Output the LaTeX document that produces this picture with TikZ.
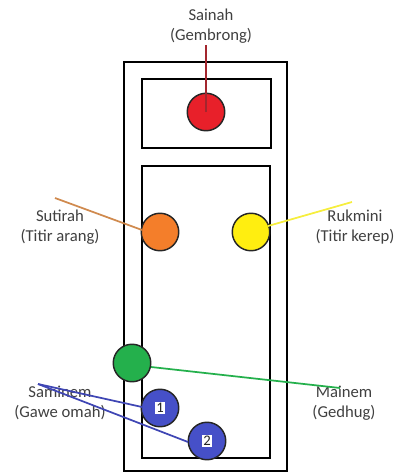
\documentclass[tikz,border=0pt]{standalone}
\usepackage{fontspec}
\setmainfont{Carlito}
\begin{document}
\begin{tikzpicture}[x=0.75pt,y=-0.75pt,
  frame/.style={draw=black,line width=1.5pt},
  lamp/.style={circle,draw=black!85,line width=1.1pt,minimum size=37.5*0.75pt,inner sep=0pt},
  lbl/.style={text=black!75,font=\fontsize{12.5}{15}\selectfont,align=center},
  num/.style={fill=white,inner sep=1pt,font=\fontsize{11}{12}\selectfont,text=black!85},
  lead/.style={line width=1.3pt}]
\definecolor{cred}{HTML}{E8202A}
\definecolor{credline}{HTML}{A3262E}
\definecolor{corange}{HTML}{F47E2A}
\definecolor{corangeline}{HTML}{D08A4E}
\definecolor{cyellow}{HTML}{FFEE10}
\definecolor{cyellowline}{HTML}{F6EE3E}
\definecolor{cgreen}{HTML}{24B04C}
\definecolor{cblue}{HTML}{4650C8}
\definecolor{cblueline}{HTML}{3F46B4}
\useasboundingbox (0,0) rectangle (401,472);
% housing and its two compartments
\draw[frame] (124,62) rectangle (287,471);
\draw[frame] (142,79) rectangle (271,148);
\draw[frame] (142,166) rectangle (270,458);
% lamps
\node[lamp,fill=cred] (sainah) at (206,112) {};
\node[lamp,fill=corange] (sutirah) at (160,232) {};
\node[lamp,fill=cyellow] (rukmini) at (251,232) {};
\node[lamp,fill=cgreen] (mainem) at (132,363) {};
\node[lamp,fill=cblue] (s1) at (160,408) {};
\node[lamp,fill=cblue] (s2) at (207,441) {};
\node[num] at (s1) {1};
\node[num] at (s2) {2};
% labels
\node[lbl] (tsainah) at (211,26) {Sainah\\(Gembrong)};
\node[lbl] (tsutirah) at (60,227) {Sutirah\\(Titir arang)};
\node[lbl] (trukmini) at (355,227) {Rukmini\\(Titir kerep)};
\node[lbl] (tmainem) at (344,403) {Mainem\\(Gedhug)};
\node[lbl] (tsaminem) at (60,403) {Saminem\\(Gawe omah)};
% leader lines
\coordinate (esainah) at (206,45);
\coordinate (esutirah) at (55,198);
\coordinate (erukmini) at (352,202);
\coordinate (emainem) at (340,388);
\coordinate (esaminem) at (38,384);
\draw[lead,credline] (sainah.center) -- (esainah);
\draw[lead,corangeline] (sutirah.center) ++(-18,-2) -- (esutirah);
\draw[lead,cyellowline] (rukmini.center) ++(17,-6) -- (erukmini);
\draw[lead,cgreen] (mainem.center) ++(19,4) -- (emainem);
\draw[lead,cblueline] (s1.center) ++(-18,-1) -- (esaminem);
\draw[lead,cblueline] (s2.center) ++(-19,1) -- (esaminem);
\end{tikzpicture}
\end{document}
